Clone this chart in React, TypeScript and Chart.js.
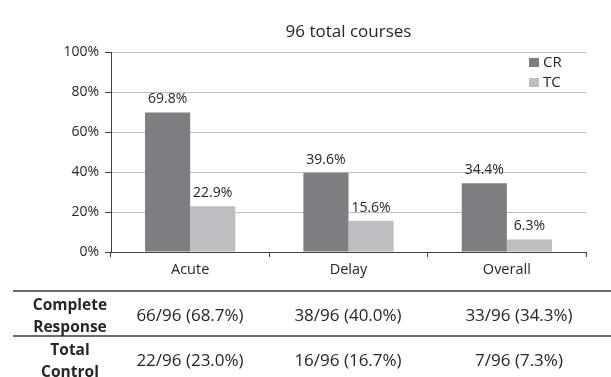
import { useEffect, useRef } from 'react';
import { Chart, registerables } from 'chart.js';

Chart.register(...registerables);

// ---- data ----
const categories = ['Acute', 'Delay', 'Overall'];
const crValues = [69.8, 39.6, 34.4];
const tcValues = [22.9, 15.6, 6.3];
const yTickValues = [0, 20, 40, 60, 80, 100];

const totalCourses = 96;
const rowLabels = [
  ['Complete', 'Response'],
  ['Total', 'Control'],
];
const crCounts = [66, 38, 33];
const crPercents = ['68.7', '40.0', '34.3'];
const tcCounts = [22, 16, 7];
const tcPercents = ['23.0', '16.7', '7.3'];

// ---- styling / layout ----
const FONT = '"Open Sans", sans-serif';
const TEXT = '#262626';
const AXIS = '#404040';
const GRID = '#c0c0c0';
const CR_COLOR = '#7d7e82';
const TC_COLOR = '#bdbec2';
const TABLE_COL_X = [190, 348, 519];
const TABLE_LABEL_X = 70;

const valueLabels = {
  id: 'valueLabels',
  afterDatasetsDraw(chart: any) {
    const { ctx } = chart;
    ctx.save();
    ctx.font = `14px ${FONT}`;
    ctx.fillStyle = TEXT;
    ctx.textAlign = 'center';
    ctx.textBaseline = 'alphabetic';
    chart.data.datasets.forEach((ds: any, i: number) => {
      chart.getDatasetMeta(i).data.forEach((bar: any, j: number) => {
        ctx.fillText(`${Number(ds.data[j]).toFixed(1)}%`, bar.x, bar.y - 9);
      });
    });
    ctx.restore();
  },
};

const cornerLegend = {
  id: 'cornerLegend',
  afterDraw(chart: any) {
    const { ctx, chartArea } = chart;
    const x = chartArea.right - 57;
    let y = chartArea.top + 6;
    ctx.save();
    ctx.font = `15px ${FONT}`;
    ctx.textAlign = 'left';
    ctx.textBaseline = 'middle';
    chart.data.datasets.forEach((ds: any) => {
      ctx.fillStyle = ds.backgroundColor;
      ctx.fillRect(x, y, 10, 9);
      ctx.fillStyle = TEXT;
      ctx.fillText(ds.label, x + 14, y + 5);
      y += 20;
    });
    ctx.restore();
  },
};

const summaryTable = {
  id: 'summaryTable',
  afterDraw(chart: any) {
    const { ctx, width } = chart;
    ctx.save();
    ctx.strokeStyle = '#3a3a3a';
    ctx.lineWidth = 1.5;
    [291, 336].forEach((ly) => {
      ctx.beginPath();
      ctx.moveTo(13, ly);
      ctx.lineTo(width, ly);
      ctx.stroke();
    });

    ctx.fillStyle = TEXT;
    ctx.textAlign = 'center';
    ctx.textBaseline = 'alphabetic';

    const rows = [
      { label: rowLabels[0], counts: crCounts, pcts: crPercents, base: [309.5, 331.5], valueBase: 321 },
      { label: rowLabels[1], counts: tcCounts, pcts: tcPercents, base: [354.5, 376.5], valueBase: 366 },
    ];
    rows.forEach((row) => {
      ctx.font = `bold 15.5px ${FONT}`;
      row.label.forEach((line, k) => ctx.fillText(line, TABLE_LABEL_X, row.base[k]));
      ctx.font = `17px ${FONT}`;
      row.counts.forEach((c, i) => {
        ctx.fillText(`${c}/${totalCourses} (${row.pcts[i]}%)`, TABLE_COL_X[i], row.valueBase);
      });
    });
    ctx.restore();
  },
};

export default function App() {
  const canvasRef = useRef<HTMLCanvasElement>(null);

  useEffect(() => {
    const chart = new Chart(canvasRef.current!, {
      type: 'bar',
      data: {
        labels: categories,
        datasets: [
          { label: 'CR', data: crValues, backgroundColor: CR_COLOR, borderWidth: 0 },
          { label: 'TC', data: tcValues, backgroundColor: TC_COLOR, borderWidth: 0 },
        ],
      },
      options: {
        responsive: false,
        devicePixelRatio: 1,
        animation: false,
        layout: { padding: { left: 0, right: 25, top: 0, bottom: 90 } },
        datasets: { bar: { categoryPercentage: 0.57, barPercentage: 1 } },
        plugins: {
          legend: { display: false },
          tooltip: { enabled: false },
          title: {
            display: true,
            text: '96 total courses',
            fullSize: false,
            color: TEXT,
            font: { family: FONT, size: 17, weight: 'normal', lineHeight: 1.2 },
            padding: { top: 21.6, bottom: 10 },
          },
        },
        scales: {
          x: {
            afterFit: (s: any) => { s.height = 35; },
            grid: {
              drawOnChartArea: false,
              drawTicks: true,
              tickLength: 5,
              tickColor: AXIS,
            },
            border: { color: AXIS, width: 1 },
            ticks: { color: TEXT, font: { family: FONT, size: 14.5 }, padding: 4 },
          },
          y: {
            min: 0,
            max: 100,
            afterFit: (s: any) => { s.width = 111; },
            afterBuildTicks: (s: any) => { s.ticks = yTickValues.map((v) => ({ value: v })); },
            grid: {
              color: (c: any) => (c.tick && c.tick.value === 0 ? AXIS : GRID),
              tickColor: AXIS,
              tickLength: 6,
              lineWidth: 1,
            },
            border: { color: AXIS, width: 1 },
            ticks: {
              color: TEXT,
              font: { family: FONT, size: 14 },
              padding: 6,
              callback: (v: any) => `${v}%`,
            },
          },
        },
      },
      plugins: [valueLabels, cornerLegend, summaryTable],
    });
    return () => chart.destroy();
  }, []);

  return (
    <div style={{ position: 'absolute', left: 0, top: 0, width: 611, height: 377, background: '#fff' }}>
      <canvas ref={canvasRef} width={611} height={377} style={{ display: 'block' }} />
    </div>
  );
}
